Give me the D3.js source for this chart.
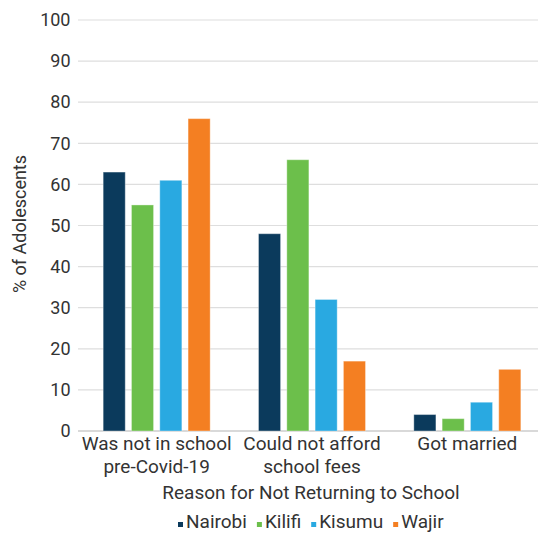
<!DOCTYPE html>
<html>
<head>
<meta charset="utf-8">
<script src="https://cdn.jsdelivr.net/npm/d3@7"></script>
<style>
  html, body { margin: 0; padding: 0; background: #fff; }
  svg { display: block; font-family: Roboto, "Noto Sans", sans-serif; }
</style>
</head>
<body>
<svg id="chart" width="538" height="535"></svg>
<script>
// Reasons for not returning to school, by county
const categories = [["Was not in school", "pre-Covid-19"], ["Could not afford", "school fees"], ["Got married"]];
const series = ["Nairobi", "Kilifi", "Kisumu", "Wajir"];
const nairobi = [63, 48, 4];
const kilifi = [55, 66, 3];
const kisumu = [61, 32, 7];
const wajir = [76, 17, 15];
const yTicks = [0, 10, 20, 30, 40, 50, 60, 70, 80, 90, 100];
const colors = ["#0b3a5c", "#6cbf4b", "#29a9e1", "#f47f22"];

const values = [nairobi, kilifi, kisumu, wajir];
const svg = d3.select("#chart");
const textColor = "#333";
const fontSize = 19;
const fontWeight = 400;

const width = 538;
const plotLeft = 79, plotRight = 545;

const y = d3.scaleLinear().domain([0, 100]).range([431, 20]);
const x0 = d3.scaleBand().domain(d3.range(categories.length))
  .range([plotLeft, plotRight]).paddingInner(0).paddingOuter(0);
const x1 = d3.scaleBand().domain(series).range([-53.5, 53.5]).paddingInner(0.22).paddingOuter(0);

// gridlines
const grid = svg.append("g").attr("class", "grid");
grid.selectAll("line").data(yTicks).join("line")
  .attr("x1", 78).attr("x2", width)
  .attr("y1", d => y(d)).attr("y2", d => y(d))
  .attr("stroke", d => d === 0 ? "#d9d9d9" : "#dedede")
  .attr("stroke-width", d => d === 0 ? 2 : 1.2);

// y axis labels
const yAxis = svg.append("g").attr("transform", `translate(70.5,0)`)
  .call(d3.axisLeft(y).tickValues(yTicks).tickSize(0).tickPadding(0));
yAxis.select(".domain").remove();
yAxis.selectAll("text").attr("font-size", 18).attr("fill", textColor)
  .attr("font-family", "Roboto, sans-serif").attr("font-weight", fontWeight);

// bars
const groups = svg.append("g").selectAll("g").data(categories).join("g")
  .attr("transform", (d, i) => `translate(${x0(i) + x0.bandwidth() / 2},0)`);
groups.selectAll("rect")
  .data((d, i) => series.map((s, j) => ({ s, j, v: values[j][i] })))
  .join("rect")
  .attr("x", d => x1(d.s))
  .attr("width", x1.bandwidth())
  .attr("y", d => y(d.v))
  .attr("height", d => y(0) - y(d.v))
  .attr("fill", d => colors[d.j])
  .attr("stroke", "rgba(255,255,255,0.35)")
  .attr("stroke-width", 1);

// category labels
groups.append("text")
  .attr("text-anchor", "middle")
  .attr("font-size", fontSize).attr("font-weight", fontWeight).attr("fill", textColor)
  .selectAll("tspan").data(d => d).join("tspan")
  .attr("x", 0)
  .attr("y", (d, i) => 450 + i * 22.5)
  .text(d => d);

// axis titles
svg.append("text")
  .attr("x", 311).attr("y", 499)
  .attr("text-anchor", "middle").attr("font-size", fontSize).attr("font-weight", fontWeight)
  .attr("fill", textColor)
  .text("Reason for Not Returning to School");

svg.append("text")
  .attr("transform", "translate(26,224) rotate(-90)")
  .attr("text-anchor", "middle").attr("font-size", 18).attr("font-weight", fontWeight)
  .attr("fill", textColor)
  .text("% of Adolescents");

// legend
const legend = svg.append("g").attr("transform", "translate(178,528)");
let lx = 0;
series.forEach((s, j) => {
  const g = legend.append("g").attr("transform", `translate(${lx},0)`);
  g.append("rect").attr("x", 0).attr("y", -6).attr("width", 5).attr("height", 5).attr("fill", colors[j]);
  const t = g.append("text").attr("x", 8).attr("y", 0)
    .attr("font-size", fontSize).attr("font-weight", fontWeight).attr("fill", textColor).text(s);
  lx += 8 + t.node().getComputedTextLength() + 10;
});
</script>
</body>
</html>
